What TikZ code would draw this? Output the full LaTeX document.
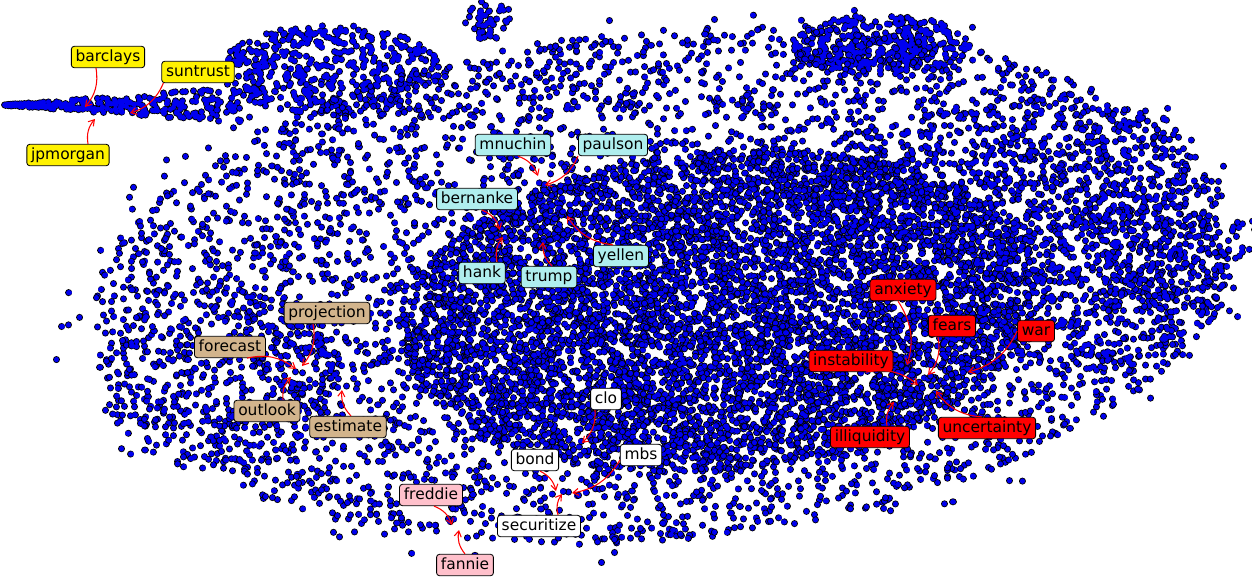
\documentclass[tikz,border=0pt]{standalone}
\usepackage{fontspec}
\setmainfont{DejaVu Sans}
\usetikzlibrary{arrows.meta}
\definecolor{paleturq}{HTML}{AFEEEE}
\definecolor{tanbox}{HTML}{D2B48C}
\definecolor{pinkbox}{HTML}{FFC0CB}
\definecolor{dotblue}{RGB}{0,0,240}
\tikzset{
  dotrim/.style={draw=black,line width=5pt,line cap=round},
  dotfill/.style={draw=dotblue,line width=3.8pt,line cap=round},
  lbl/.style={draw=black,rounded corners=2pt,line width=0.6pt,inner xsep=3pt,inner ysep=2.5pt,
    font=\fontsize{11}{12}\selectfont,text height=8pt,text depth=2.2pt},
  arr/.style={red,line width=0.75pt,-{Straight Barb[length=4pt,width=5pt]}}
}
% one batch of dots: n, cx, cy, a, b, tilt
\newcommand\dotbatch[6]{%
  \gdef\dotlist{}%
  \foreach \i in {1,...,#1}{
    \pgfmathsetmacro\ptang{360*rnd}
    \pgfmathsetmacro\ptrad{sqrt(rnd)}
    \pgfmathsetmacro\ptx{#4*\ptrad*cos(\ptang)}
    \pgfmathsetmacro\pty{#5*\ptrad*sin(\ptang)}
    \pgfmathsetmacro\ptfx{#2+\ptx*cos(#6)+\pty*sin(#6)}
    \pgfmathsetmacro\ptfy{#3-\ptx*sin(#6)+\pty*cos(#6)}
    \xdef\dotlist{\dotlist\ifx\dotlist\empty\else,\fi\ptfx/\ptfy}
  }
  \draw[dotrim] foreach \px/\py in \dotlist {(\px,\py) -- ++(0,0.01)};
  \draw[dotfill] foreach \px/\py in \dotlist {(\px,\py) -- ++(0,0.01)};
}
\begin{document}
\begin{tikzpicture}[x=0.25mm,y=-0.25mm]
\useasboundingbox (0,0) rectangle (1252,579);
\fill[white] (0,0) rectangle (1252,579);
\pgfmathsetseed{7}
% the cloud
\foreach \k in {1,...,2}{\dotbatch{300}{660}{285}{610}{275}{5}}
\dotbatch{450}{330}{70}{110}{45}{0}
\dotbatch{50}{488}{20}{25}{20}{0}
\dotbatch{350}{880}{45}{90}{30}{0}
\dotbatch{150}{1180}{250}{70}{80}{5}
\foreach \k in {1,...,20}{
  \dotbatch{250}{660}{285}{570}{255}{5}
  \dotbatch{265}{720}{310}{320}{160}{5}
}
\dotbatch{500}{1000}{170}{200}{70}{5}
\dotbatch{450}{1100}{280}{130}{90}{5}
\dotbatch{250}{220}{380}{120}{90}{0}
% the streak
\gdef\dotlist{}
\foreach \i in {1,...,300}{
  \pgfmathsetmacro\ptx{5+240*rnd^1.3}
  \pgfmathsetmacro\pty{105+\ptx/240*18*rand}
  \xdef\dotlist{\dotlist\ifx\dotlist\empty\else,\fi\ptx/\pty}
}
\draw[dotrim] foreach \px/\py in \dotlist {(\px,\py) -- ++(0,0.01)};
\draw[dotfill] foreach \px/\py in \dotlist {(\px,\py) -- ++(0,0.01)};
% labels
\node[lbl,fill=yellow] (barclays) at (108,57) {barclays};
\node[lbl,fill=yellow] (suntrust) at (198,72) {suntrust};
\node[lbl,fill=yellow] (jpmorgan) at (68,155) {jpmorgan};
\node[lbl,fill=paleturq] (mnuchin) at (513,145) {mnuchin};
\node[lbl,fill=paleturq] (paulson) at (613,145) {paulson};
\node[lbl,fill=paleturq] (bernanke) at (477,199) {bernanke};
\node[lbl,fill=paleturq] (hank) at (482,273) {hank};
\node[lbl,fill=paleturq] (trump) at (549,277) {trump};
\node[lbl,fill=paleturq] (yellen) at (621,256) {yellen};
\node[lbl,fill=tanbox] (projection) at (327,313) {projection};
\node[lbl,fill=tanbox] (forecast) at (230,347) {forecast};
\node[lbl,fill=tanbox] (outlook) at (267,411) {outlook};
\node[lbl,fill=tanbox] (estimate) at (348,427) {estimate};
\node[lbl,fill=red] (anxiety) at (903,290) {anxiety};
\node[lbl,fill=red] (fears) at (952,326) {fears};
\node[lbl,fill=red] (war) at (1036,331) {war};
\node[lbl,fill=red] (instability) at (851,361) {instability};
\node[lbl,fill=red] (illiquidity) at (870,437) {illiquidity};
\node[lbl,fill=red] (uncertainty) at (987,428) {uncertainty};
\node[lbl,fill=white] (clo) at (606,399) {clo};
\node[lbl,fill=white] (bond) at (535,460) {bond};
\node[lbl,fill=white] (mbs) at (641,455) {mbs};
\node[lbl,fill=white] (securitize) at (539,526) {securitize};
\node[lbl,fill=pinkbox] (freddie) at (431,495) {freddie};
\node[lbl,fill=pinkbox] (fannie) at (465,565) {fannie};
% targets
\coordinate (tbarclays) at (85,107);
\coordinate (tsuntrust) at (130,113);
\coordinate (tjpmorgan) at (95,119);
\coordinate (tmnuchin) at (538,176);
\coordinate (tpaulson) at (545,185);
\coordinate (tbernanke) at (500,230);
\coordinate (thank) at (503,237);
\coordinate (ttrump) at (543,242);
\coordinate (tyellen) at (567,216);
\coordinate (tprojection) at (302,366);
\coordinate (tforecast) at (296,369);
\coordinate (toutlook) at (291,377);
\coordinate (testimate) at (342,390);
\coordinate (tanxiety) at (907,365);
\coordinate (tfears) at (928,375);
\coordinate (twar) at (968,372);
\coordinate (tinstability) at (918,385);
\coordinate (tilliquidity) at (894,402);
\coordinate (tuncertainty) at (936,391);
\coordinate (tclo) at (582,443);
\coordinate (tbond) at (556,491);
\coordinate (tmbs) at (572,493);
\coordinate (tsecuritize) at (562,494);
\coordinate (tfreddie) at (452,525);
\coordinate (tfannie) at (459,530);
% arrows: label/anchor/shift
\foreach \w/\a/\dx/\dy in {barclays/south/-12/0, suntrust/south west/2/0, jpmorgan/north/20/0,
  mnuchin/south/5/0, paulson/south west/0/0, bernanke/south/5/0, hank/north/15/0,
  trump/north/3/0, yellen/north/-8/0, projection/south/-14/0, forecast/south/17/0,
  outlook/north/16/0, estimate/north/3/0, anxiety/south/-5/0, fears/south/-14/0, war/west/0/0,
  instability/south/15/0, illiquidity/north/17/0, uncertainty/north/-5/0, clo/south/-11/0,
  bond/south/5/0, mbs/west/0/5, securitize/north/19/0, freddie/south/3/0, fannie/north/0/0}
  \draw[arr] (\w.\a) ++(\dx,\dy) to[bend left=25] (t\w);
\end{tikzpicture}
\end{document}
